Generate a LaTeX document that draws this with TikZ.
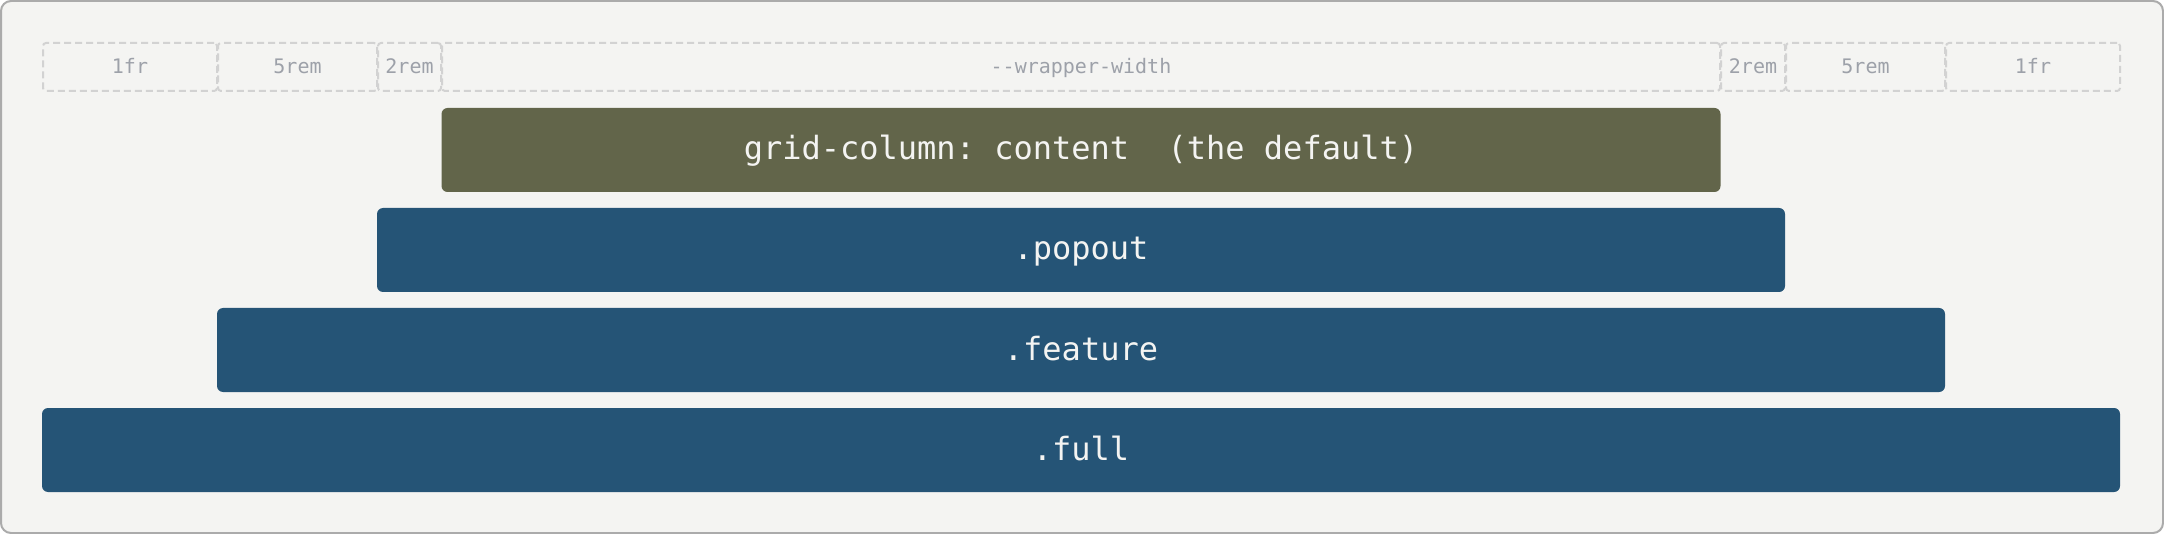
\documentclass[tikz,border=0pt]{standalone}
\usepackage{fontspec}
\setmonofont{DejaVu Sans Mono}
\usetikzlibrary{positioning}

\definecolor{pagebg}{HTML}{F4F4F2}
\definecolor{framegray}{HTML}{ABABAB}
\definecolor{dashgray}{HTML}{D2D2D2}
\definecolor{labelgray}{HTML}{9DA1A9}
\definecolor{contentgreen}{HTML}{62654A}
\definecolor{barblue}{HTML}{255476}

\begin{document}
\begin{tikzpicture}[x=0.5pt, y=-0.5pt,
  colbox/.style={draw=dashgray, line width=1pt, dash pattern=on 3.5pt off 2pt, rounded corners=1.5pt, minimum height=24pt, inner sep=0pt, outer sep=0pt, text height=7pt, text depth=0pt, font=\ttfamily\fontsize{10}{12}\selectfont, text=labelgray},
  bar/.style={fill=barblue, rounded corners=3pt, minimum height=42pt, inner sep=0pt, outer sep=0pt, text height=10pt, text depth=0pt, font=\ttfamily\fontsize{16}{19}\selectfont, text=pagebg},
  node distance=0.5pt]

  \useasboundingbox (0,0) rectangle (2164,534);
  \draw[framegray, fill=pagebg, line width=1pt, rounded corners=5pt] (1,1) rectangle (2163,533);

  % grid columns
  \node[colbox, anchor=north west, minimum width=87pt] (fr1) at (43,43) {1fr};
  \node[colbox, minimum width=79.5pt, right=of fr1] (rem5a) {5rem};
  \node[colbox, minimum width=31.5pt, right=of rem5a] (rem2a) {2rem};
  \node[colbox, minimum width=639pt, right=of rem2a] (wrap) {-{}-wrapper-width};
  \node[colbox, minimum width=32pt, right=of wrap] (rem2b) {2rem};
  \node[colbox, minimum width=79.5pt, right=of rem2b] (rem5b) {5rem};
  \node[colbox, minimum width=87pt, right=of rem5b] (fr2) {1fr};

  % placements
  \node[bar, fill=contentgreen, minimum width=639.5pt, below=8.5pt of wrap] (content) {grid-column: content~~(the default)};
  \node[bar, minimum width=704pt, below=8pt of content] (popout) {.popout};
  \node[bar, minimum width=864pt, below=8pt of popout] (feature) {.feature};
  \node[bar, minimum width=1039pt, below=8pt of feature] (full) {.full};
\end{tikzpicture}
\end{document}
